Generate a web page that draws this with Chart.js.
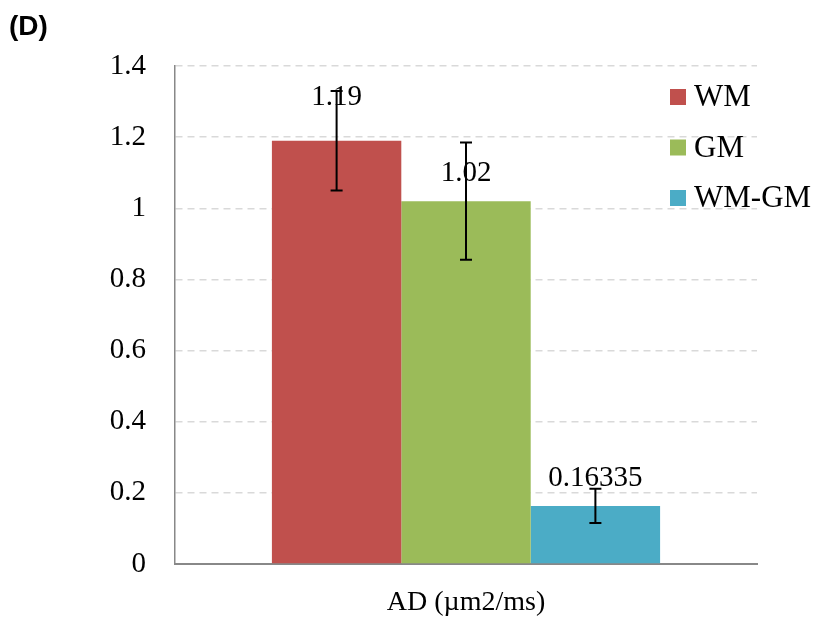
<!DOCTYPE html>
<html>
<head>
<meta charset="utf-8">
<script src="https://cdn.jsdelivr.net/npm/chart.js@4.4.1/dist/chart.umd.min.js"></script>
<style>
  html, body { margin: 0; padding: 0; background: #fff; }
  #wrap { width: 817px; height: 622px; position: relative; }
</style>
</head>
<body>
<div id="wrap"><canvas id="c" width="817" height="622"></canvas></div>
<script>
// Axial diffusivity per tissue class
const categories = ['AD (\u00b5m2/ms)'];
const seriesNames = ['WM', 'GM', 'WM-GM'];
const seriesValues = [1.19, 1.02, 0.16335];
const seriesErrors = [0.14, 0.165, 0.048];
const valueLabels = ['1.19', '1.02', '0.16335'];
const yTicks = [0, 0.2, 0.4, 0.6, 0.8, 1, 1.2, 1.4];
const colors = ['#C0504D', '#9BBB59', '#4BACC6'];

const serif = '"Liberation Serif", "Times New Roman", serif';

const datasets = seriesNames.map((name, i) => ({
  label: name,
  data: [seriesValues[i]],
  backgroundColor: colors[i],
  borderWidth: 0,
  errorBar: seriesErrors[i],
  valueLabel: valueLabels[i]
}));

// Error bars, value labels, legend and panel tag
const decorations = {
  id: 'decorations',
  afterDatasetsDraw(chart) {
    const ctx = chart.ctx;
    const y = chart.scales.y;
    const labelOffsets = [43, 28, 28];
    chart.data.datasets.forEach((ds, i) => {
      const bar = chart.getDatasetMeta(i).data[0];
      const v = ds.data[0];
      const e = ds.errorBar;
      const x = bar.x;
      const yTop = y.getPixelForValue(v + e);
      const yBot = y.getPixelForValue(v - e);
      ctx.save();
      ctx.fillStyle = '#000';
      ctx.font = '29px ' + serif;
      ctx.textAlign = 'center';
      ctx.textBaseline = 'middle';
      ctx.fillText(ds.valueLabel, x, y.getPixelForValue(v) - labelOffsets[i]);
      ctx.strokeStyle = '#000';
      ctx.lineWidth = 2;
      ctx.beginPath();
      ctx.moveTo(x, yTop); ctx.lineTo(x, yBot);
      ctx.moveTo(x - 6, yTop); ctx.lineTo(x + 6, yTop);
      ctx.moveTo(x - 6, yBot); ctx.lineTo(x + 6, yBot);
      ctx.stroke();
      ctx.restore();
    });
  },
  afterDraw(chart) {
    const ctx = chart.ctx;
    ctx.save();
    // legend
    const lx = 670, ly0 = 97, step = 50.5, box = 16;
    chart.data.datasets.forEach((ds, i) => {
      const cy = ly0 + i * step;
      ctx.fillStyle = ds.backgroundColor;
      ctx.fillRect(lx, cy - box / 2, box, box);
      ctx.fillStyle = '#000';
      ctx.font = '31px ' + serif;
      ctx.textAlign = 'left';
      ctx.textBaseline = 'middle';
      ctx.fillText(ds.label, lx + 24, cy + 1);
    });
    // panel tag
    ctx.font = 'bold 28px "Liberation Sans", Arial, sans-serif';
    ctx.fillStyle = '#000';
    ctx.textAlign = 'left';
    ctx.textBaseline = 'middle';
    ctx.fillText('(D)', 9, 27);
    ctx.restore();
  }
};

new Chart(document.getElementById('c'), {
  type: 'bar',
  data: { labels: categories, datasets },
  plugins: [decorations],
  options: {
    responsive: false,
    animation: false,
    layout: { padding: { top: 66, right: 60, bottom: 0, left: 0 } },
    plugins: { legend: { display: false }, tooltip: { enabled: false } },
    datasets: { bar: { categoryPercentage: 0.667, barPercentage: 1 } },
    scales: {
      x: {
        afterFit(s) { s.height = 58; },
        grid: { display: false, drawTicks: false },
        border: { display: true, color: '#888', width: 2 },
        ticks: { color: '#000', font: { family: serif, size: 28 }, padding: 22 }
      },
      y: {
        min: 0, max: 1.4,
        afterFit(s) { s.width = 175; },
        afterBuildTicks(s) { s.ticks = yTicks.map(v => ({ value: v })); },
        grid: { color: '#d9d9d9', lineWidth: 1.5, drawTicks: false },
        border: { display: true, color: '#888', width: 1.5, dash: [7, 5] },
        ticks: {
          color: '#000', font: { family: serif, size: 29 }, padding: 29,
          callback: v => String(v)
        }
      }
    }
  }
});
</script>
</body>
</html>
